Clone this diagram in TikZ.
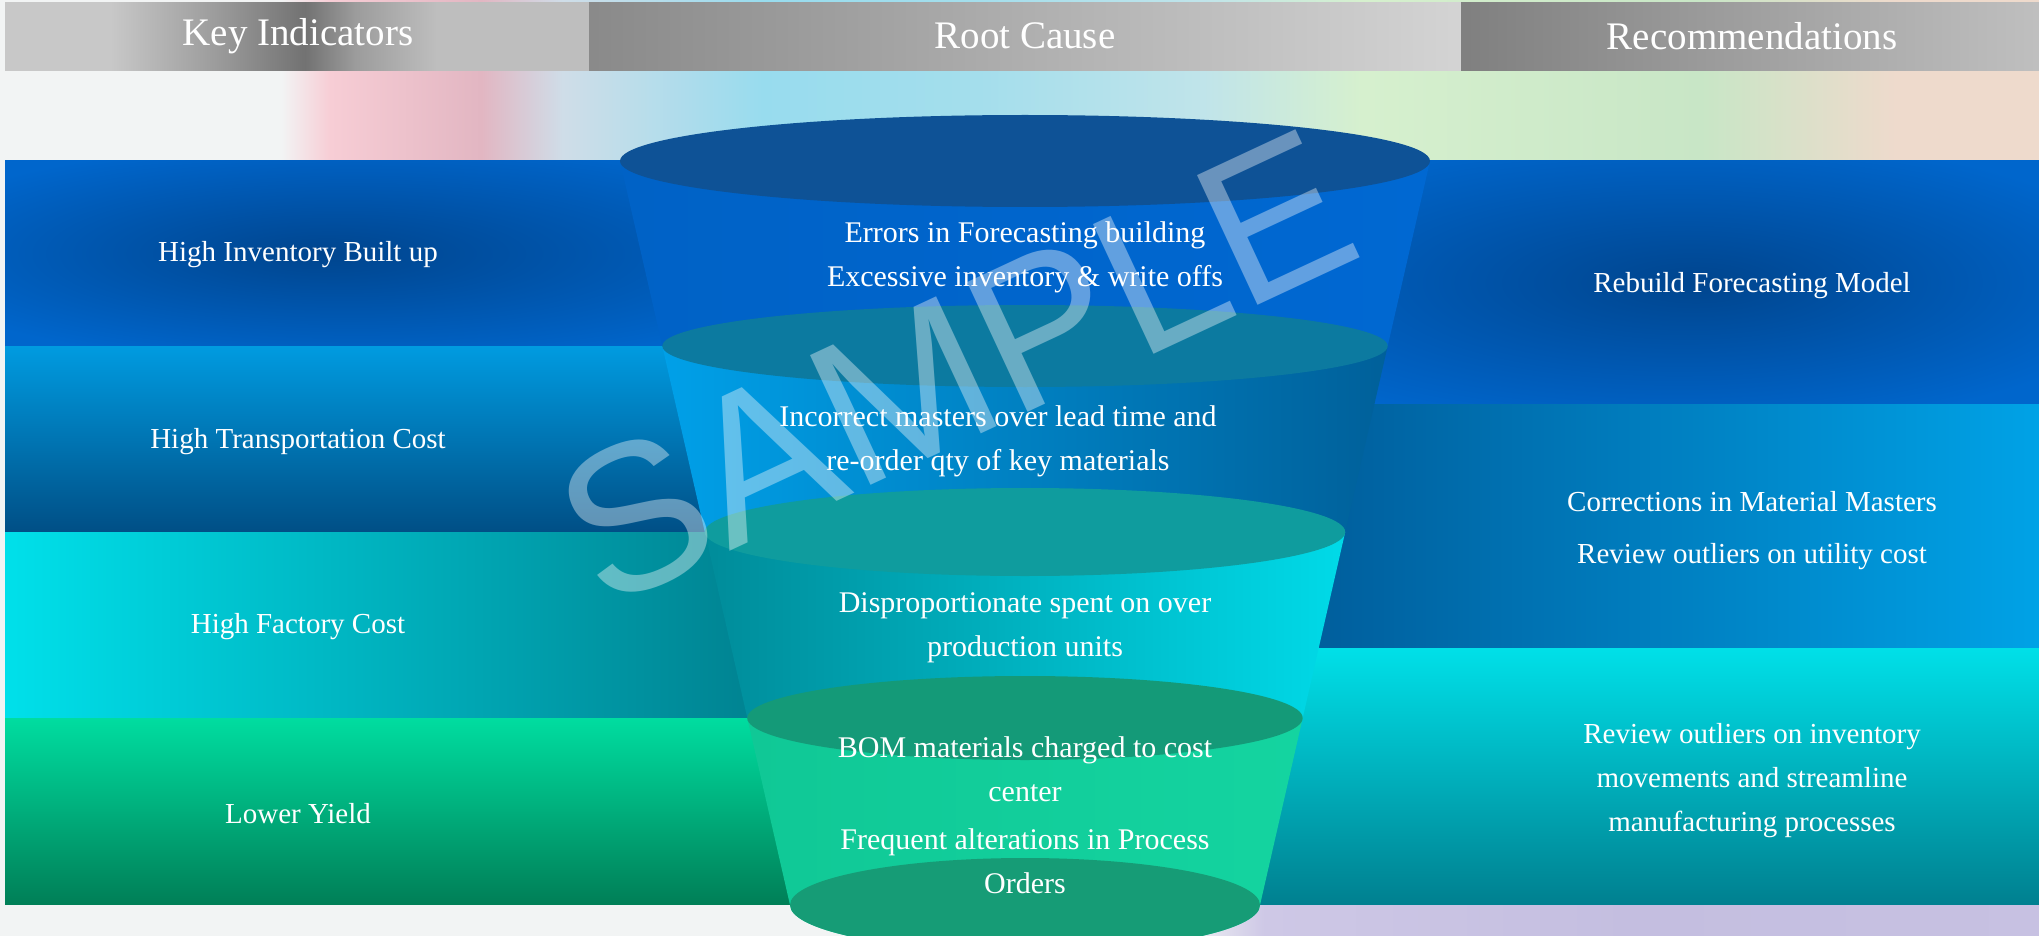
\documentclass[tikz,border=0pt]{standalone}
\usepackage{fontspec}
\setmainfont{Liberation Serif}
\newfontfamily\wmfont{Liberation Sans}
\usetikzlibrary{positioning}

% colours
\definecolor{bgA}{HTML}{F2F4F4}
\definecolor{bgPink}{HTML}{F7CDD5}
\definecolor{bgMauve}{HTML}{E2B6C2}
\definecolor{bgGrey}{HTML}{CFDDE8}
\definecolor{bgCyan}{HTML}{98DCEE}
\definecolor{bgCyanB}{HTML}{A4DEEC}
\definecolor{bgIce}{HTML}{C0E4EA}
\definecolor{bgGreen}{HTML}{D6F0CE}
\definecolor{bgSage}{HTML}{C8E6C6}
\definecolor{bgPeach}{HTML}{EEDACC}
\definecolor{bgLav}{HTML}{C4BEE0}
\definecolor{bgLavB}{HTML}{CEC8E6}
\definecolor{bandNavy}{HTML}{00458E}
\definecolor{bandBlue}{HTML}{0066CC}
\definecolor{skyTop}{HTML}{009BE0}
\definecolor{skyBot}{HTML}{004F86}
\definecolor{aquaL}{HTML}{00E0EA}
\definecolor{aquaR}{HTML}{007D8C}
\definecolor{mintTop}{HTML}{00DDA0}
\definecolor{mintBot}{HTML}{007F57}
\definecolor{oceanL}{HTML}{005896}
\definecolor{oceanR}{HTML}{00A2E6}
\definecolor{tealTop}{HTML}{00E0E8}
\definecolor{tealBot}{HTML}{008090}
\definecolor{segOneL}{HTML}{0062C6}
\definecolor{segOneM}{HTML}{004E9E}
\definecolor{segOneR}{HTML}{0068D2}
\definecolor{segTwoL}{HTML}{00A0E8}
\definecolor{segTwoR}{HTML}{00609A}
\definecolor{segThreeL}{HTML}{008C9A}
\definecolor{segThreeR}{HTML}{00DAE8}
\definecolor{segFourL}{HTML}{10C896}
\definecolor{segFourR}{HTML}{14D4A0}
\definecolor{lidOne}{HTML}{0E5296}
\definecolor{lidTwo}{HTML}{0C7AA0}
\definecolor{lidThree}{HTML}{0F9C9E}
\definecolor{lidFour}{HTML}{149A78}
\definecolor{lidBase}{HTML}{169C76}
\definecolor{hdrPale}{HTML}{C8C8C8}
\definecolor{hdrMid}{HTML}{9C9C9C}
\definecolor{hdrDeep}{HTML}{727272}
\definecolor{hdrSoft}{HTML}{BEBEBE}

% shadings: the box of a path shows 25bp to 75bp of a 100bp shading
\pgfdeclarehorizontalshading{photo}{100bp}{color(0bp)=(bgA); color(31.9bp)=(bgA);
  color(33.1bp)=(bgPink); color(36.8bp)=(bgMauve); color(38.8bp)=(bgGrey);
  color(43.7bp)=(bgCyan); color(49bp)=(bgCyanB); color(54.5bp)=(bgIce);
  color(58.4bp)=(bgGreen); color(66.7bp)=(bgSage); color(71.5bp)=(bgPeach);
  color(100bp)=(bgPeach)}
\pgfdeclarehorizontalshading{photobot}{100bp}{color(0bp)=(bgA); color(54bp)=(bgA);
  color(56bp)=(bgLavB); color(65bp)=(bgLav); color(100bp)=(bgLavB)}
\pgfdeclarehorizontalshading{headkey}{100bp}{color(0bp)=(hdrPale); color(34bp)=(hdrPale);
  color(43bp)=(hdrMid); color(50.7bp)=(hdrDeep); color(55bp)=(hdrMid);
  color(62bp)=(hdrSoft); color(100bp)=(hdrSoft)}
\pgfdeclareradialshading{glowL}{\pgfpoint{-5.2bp}{0bp}}{color(0bp)=(bandNavy);
  color(31bp)=(bandBlue); color(50bp)=(bandBlue)}
\pgfdeclareradialshading{glowR}{\pgfpoint{3.5bp}{0bp}}{color(0bp)=(bandNavy);
  color(31bp)=(bandBlue); color(50bp)=(bandBlue)}

\begin{document}
\begin{tikzpicture}[
    x=0.5pt, y=-0.5pt,
    hdr/.style={text=white, font=\fontsize{19.5}{22}\selectfont},
    lbl/.style={text=white, align=center, font=\fontsize{14.5}{22}\selectfont},
    cause/.style={text=white, align=center, font=\fontsize{15}{22}\selectfont},
    wmark/.style={text=white, text opacity=0.38, font=\wmfont\fontsize{104}{104}\selectfont},
  ]
  \useasboundingbox (0,0) rectangle (2039,936);

  % backdrop
  \fill[bgA] (0,0) rectangle (2039,936);
  \shade[shading=photo] (0,0) rectangle (2039,161);
  \shade[shading=photobot] (0,904) rectangle (2039,936);

  % header bar
  \shade[shading=headkey] (5,3) rectangle (589,71);
  \shade[left color=black!46, middle color=black!24, right color=black!17] (589,3) rectangle (1461,71);
  \shade[left color=black!50, right color=black!25] (1461,3) rectangle (2039,71);
  \node[hdr] (hKey) at (298,36) {Key Indicators};
  \node[hdr] (hCause) at (1025,36) {Root Cause};
  \node[hdr] (hRec) at (1752,36) {Recommendations};

  % key indicator bands
  \shade[shading=glowL] (5,161) rectangle (800,346);
  \shade[top color=skyTop, bottom color=skyBot] (5,346) rectangle (800,532);
  \shade[left color=aquaL, right color=aquaR] (5,532) rectangle (800,718);
  \shade[top color=mintTop, bottom color=mintBot] (5,718) rectangle (800,904);

  % recommendation bands
  \shade[shading=glowR] (1250,161) rectangle (2039,404);
  \shade[left color=oceanL, right color=oceanR] (1250,404) rectangle (2039,648);
  \shade[top color=tealTop, bottom color=tealBot] (1250,648) rectangle (2039,904);

  % funnel
  \shade[left color=segOneL, middle color=segOneM, right color=segOneR]
    (620,161) -- (662.3,346) arc[start angle=180, end angle=0, x radius=362.7, y radius=41] -- (1430,161) -- cycle;
  \fill[lidOne] (1025,161) ellipse [x radius=405, y radius=46];
  \shade[left color=segTwoL, right color=segTwoR]
    (662.3,346) -- (704.8,532) arc[start angle=180, end angle=0, x radius=320.2, y radius=44] -- (1387.7,346) -- cycle;
  \fill[lidTwo] (1025,346) ellipse [x radius=362.7, y radius=41];
  \shade[left color=segThreeL, right color=segThreeR]
    (704.8,532) -- (747.3,718) arc[start angle=180, end angle=0, x radius=277.7, y radius=42] -- (1345.2,532) -- cycle;
  \fill[lidThree] (1025,532) ellipse [x radius=320.2, y radius=44];
  \shade[left color=segFourL, right color=segFourR]
    (747.3,718) -- (790,905) arc[start angle=180, end angle=0, x radius=235, y radius=47] -- (1302.7,718) -- cycle;
  \fill[lidFour] (1025,718) ellipse [x radius=277.7, y radius=42];
  \fill[lidBase] (1025,905) ellipse [x radius=235, y radius=47];

  % labels
  \node[lbl] (kpi1) at (298,255) {High Inventory Built up};
  \node[lbl] (kpi2) at (298,442) {High Transportation Cost};
  \node[lbl] (kpi3) at (298,627) {High Factory Cost};
  \node[lbl] (kpi4) at (298,814) {Lower Yield};

  \node[cause] (cause1) at (1025,257) {Errors in Forecasting building\\Excessive inventory \& write offs};
  \node[cause] (cause2) at (998,441) {Incorrect masters over lead time and\\re-order qty of key materials};
  \node[cause] (cause3) at (1025,628) {Disproportionate spent on over\\production units};
  \node[cause] (cause4) at (1025,815) {BOM materials charged to cost\\center\\[2pt]Frequent alterations in Process\\Orders};

  \node[lbl] (rec1) at (1752,286) {Rebuild Forecasting Model};
  \node[lbl, font=\fontsize{14.5}{26}\selectfont] (rec2) at (1752,531) {Corrections in Material Masters\\Review outliers on utility cost};
  \node[lbl] (rec3) at (1752,781) {Review outliers on inventory\\movements and streamline\\manufacturing processes};

  % watermark
  \node[wmark, rotate=25] (stamp) at (956,367) {SAMPLE};
\end{tikzpicture}
\end{document}
